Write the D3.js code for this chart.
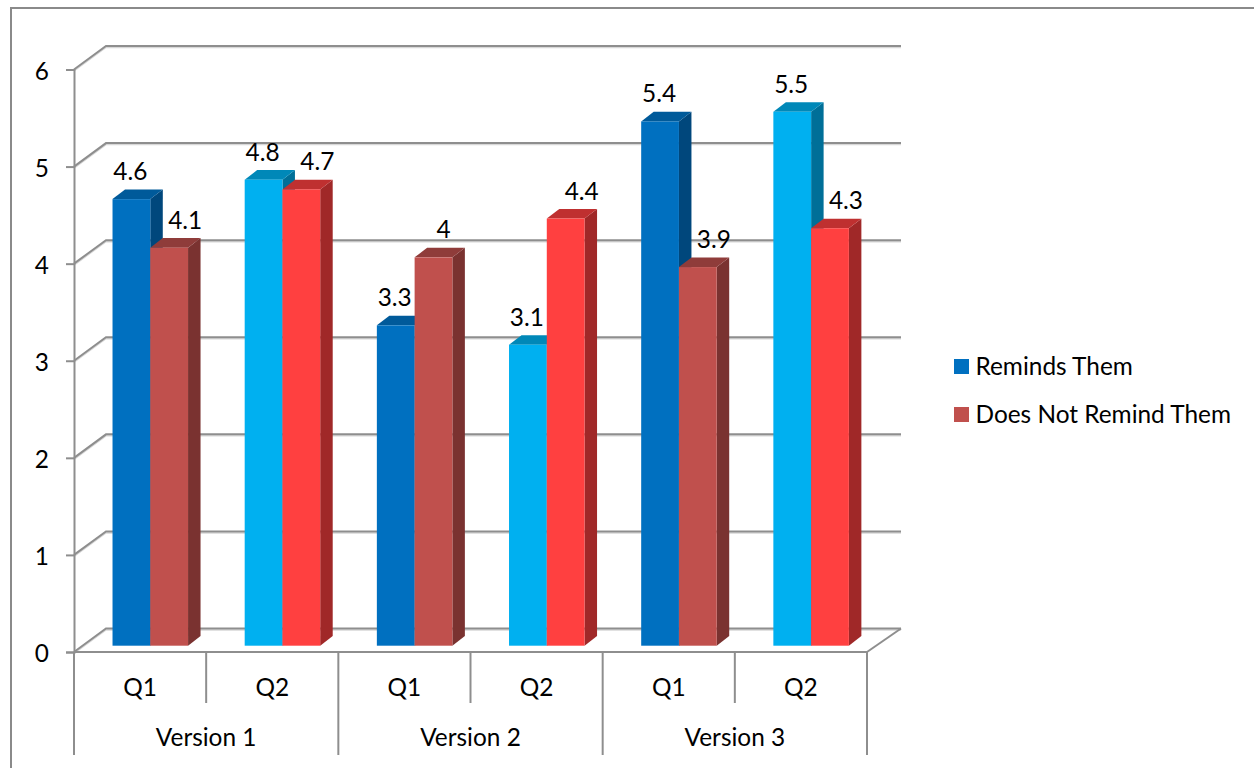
<!DOCTYPE html>
<html>
<head>
<meta charset="utf-8">
<script src="https://cdn.jsdelivr.net/npm/d3@7"></script>
<style>
  html, body { margin: 0; padding: 0; background: #fff; }
  svg { display: block; }
  text { font-family: Lato, "Open Sans", sans-serif; fill: #000; }
</style>
</head>
<body>
<svg id="chart" width="1254" height="768"></svg>
<script>
const questions = ["Q1", "Q2", "Q1", "Q2", "Q1", "Q2"];
const versions = ["Version 1", "Version 2", "Version 3"];
const seriesNames = ["Reminds Them", "Does Not Remind Them"];
const remindsThem = [4.6, 4.8, 3.3, 3.1, 5.4, 5.5];
const doesNotRemindThem = [4.1, 4.7, 4, 4.4, 3.9, 4.3];
const valueTicks = [0, 1, 2, 3, 4, 5, 6];

// Front, top and side shades: the first question of each version uses the
// darker pair, the second question the brighter pair.
const shades = {
  "Reminds Them": [
    { front: "#0070C0", top: "#005A9A", side: "#00477C" },
    { front: "#00B0F0", top: "#0088B8", side: "#006F98" }
  ],
  "Does Not Remind Them": [
    { front: "#C0504D", top: "#8F3C3A", side: "#7A3230" },
    { front: "#FF4040", top: "#BF3030", side: "#A02828" }
  ]
};

const gridColor = "#8E8E8E";
const fontSize = 24.4;
const svg = d3.select("#chart");

// Oblique projection of the chart box and of the bars standing inside it.
const wallDepth = { x: 32, y: -23.5 };
const wallRight = 901;
const barDepth = { x: 12.5, y: -9.6 };
const barInset = { x: 10.2, y: -6.3 };

const y = d3.scaleLinear().domain([0, 6]).range([652, 69.5]);
const x = d3.scaleBand().domain(d3.range(questions.length)).range([74, 867]);
const xSeries = d3.scaleBand().domain(seriesNames).range([0, x.bandwidth()])
  .paddingInner(0).paddingOuter(0.75);
const xVersion = d3.scaleBand().domain(versions).range([74, 867]);

// Outer chart frame, open at the right and bottom page edges.
svg.append("path")
  .attr("d", "M11,768V8H1254")
  .attr("fill", "none").attr("stroke", "#8A8A8A").attr("stroke-width", 2);

// Back wall gridlines with their connecting diagonals; each has a pale shadow.
const gridPath = v => {
  const px = d3.path();
  px.moveTo(74, y(v));
  px.lineTo(74 + wallDepth.x, y(v) + wallDepth.y);
  px.lineTo(wallRight, y(v) + wallDepth.y);
  return px.toString();
};
const grid = svg.append("g").attr("fill", "none");
grid.selectAll("path.shadow").data(valueTicks).join("path")
  .attr("class", "shadow").attr("d", gridPath)
  .attr("transform", "translate(0,1.5)")
  .attr("stroke", "#D8D8D8").attr("stroke-width", 1.5);
grid.selectAll("path.line").data(valueTicks).join("path")
  .attr("class", "line").attr("d", gridPath)
  .attr("stroke", gridColor).attr("stroke-width", 2);

// Right edge of the floor.
svg.append("line")
  .attr("x1", 867).attr("y1", y(0))
  .attr("x2", wallRight).attr("y2", y(0) + wallDepth.y)
  .attr("stroke", gridColor).attr("stroke-width", 2);

// Value axis.
const axisY = svg.append("g")
  .attr("transform", "translate(74,0)")
  .call(d3.axisLeft(y).tickValues(valueTicks).tickSize(8).tickPadding(17).tickFormat(d3.format("d")));
axisY.select(".domain").attr("stroke", gridColor).attr("stroke-width", 2);
axisY.selectAll(".tick line").attr("stroke", gridColor).attr("stroke-width", 2);
axisY.selectAll("text").attr("font-size", fontSize).attr("font-family", "Lato").attr("dy", "0.4em").attr("fill", "#000");

// Floor front edge.
svg.append("line")
  .attr("x1", 74).attr("x2", 867).attr("y1", y(0)).attr("y2", y(0))
  .attr("stroke", gridColor).attr("stroke-width", 2);

// Bars, drawn left to right so that each one overlaps its neighbour's side.
const records = questions.flatMap((q, i) => [
  { i, q, series: seriesNames[0], value: remindsThem[i], tone: i % 2 },
  { i, q, series: seriesNames[1], value: doesNotRemindThem[i], tone: i % 2 }
]);
const left = d => x(d.i) + xSeries(d.series) + barInset.x;
const barTop = d => y(d.value) + barInset.y;
const barBase = y(0) + barInset.y;
const w = xSeries.bandwidth();

const bars = svg.append("g").selectAll("g").data(records).join("g");
bars.append("path")
  .attr("fill", d => shades[d.series][d.tone].side)
  .attr("d", d => {
    const r = left(d) + w;
    return `M${r},${barTop(d)}l${barDepth.x},${barDepth.y}V${barBase + barDepth.y}L${r},${barBase}Z`;
  });
bars.append("path")
  .attr("fill", d => shades[d.series][d.tone].top)
  .attr("d", d => {
    const l = left(d);
    return `M${l},${barTop(d)}l${barDepth.x},${barDepth.y}h${w}l${-barDepth.x},${-barDepth.y}Z`;
  });
bars.append("rect")
  .attr("x", left).attr("y", barTop)
  .attr("width", w).attr("height", d => barBase - barTop(d))
  .attr("fill", d => shades[d.series][d.tone].front);

// Value labels float above the bar; the second series sits over its side face.
svg.append("g").selectAll("text").data(records).join("text")
  .attr("x", d => {
    const c = left(d) + w / 2;
    if (d.series === seriesNames[0]) return c - 1;
    return Number.isInteger(d.value) ? c + 10 : c + 16;
  })
  .attr("y", d => barTop(d) - 19)
  .attr("text-anchor", "middle")
  .attr("font-size", fontSize)
  .text(d => d.value);

// Two-level category axis: question row, then version row.
const axisStroke = sel => sel.attr("stroke", gridColor).attr("stroke-width", 2);
svg.append("g").selectAll("line").data(d3.range(questions.length + 1)).join("line")
  .attr("x1", i => 74 + i * x.step()).attr("x2", i => 74 + i * x.step())
  .attr("y1", y(0))
  .attr("y2", i => i % 2 === 0 ? 755 : 703)
  .call(axisStroke);
svg.append("g").selectAll("text").data(questions).join("text")
  .attr("x", (d, i) => x(i) + x.bandwidth() / 2)
  .attr("y", 696)
  .attr("text-anchor", "middle").attr("font-size", fontSize)
  .text(d => d);
svg.append("g").selectAll("text").data(versions).join("text")
  .attr("x", d => xVersion(d) + xVersion.bandwidth() / 2)
  .attr("y", 746)
  .attr("text-anchor", "middle").attr("font-size", fontSize)
  .text(d => d);

// Legend.
const legend = svg.append("g").selectAll("g").data(seriesNames).join("g")
  .attr("transform", (d, i) => `translate(954,${359 + i * 48})`);
legend.append("rect")
  .attr("width", 15).attr("height", 15)
  .attr("fill", d => shades[d][0].front);
legend.append("text")
  .attr("x", 21.5).attr("y", 15.5)
  .attr("font-size", fontSize)
  .text(d => d);
</script>
</body>
</html>
